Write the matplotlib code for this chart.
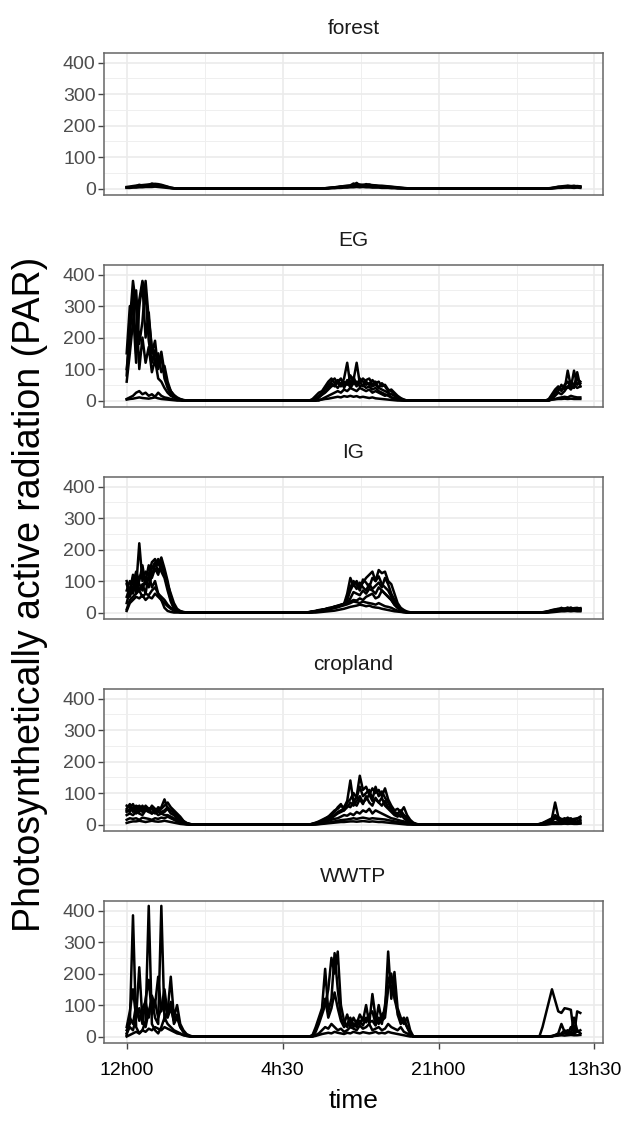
import numpy as np
import matplotlib
matplotlib.use('Agg')
import matplotlib.pyplot as plt
from matplotlib.ticker import FixedLocator, MultipleLocator

plt.rcParams['font.family'] = ['Liberation Sans', 'DejaVu Sans']

# hours after 12h00 on day 1, 20 min steps
step = 1 / 3
hours = np.arange(0, 48 + 1e-9, step)
# each series: daylight segments starting at 12h00 (d1), 06h40 (d2), 07h20 (d3); zero at night
seg_start = [0.0, 18 + 2 / 3, 43 + 1 / 3]

forest = [
    ([5, 6, 8, 9, 10, 11, 12, 13, 14, 15, 14, 12, 9, 6, 3, 1, 0, 0, 0, 0, 0, 0, 0],
     [0, 0, 0, 0, 0, 0, 0, 1, 2, 3, 4, 5, 6, 8, 9, 10, 16, 12, 13, 11, 14, 12, 11, 10, 9, 9, 8, 7, 6, 5, 4, 3, 2, 1, 0, 0, 0, 0],
     [0, 0, 0, 0, 1, 2, 4, 6, 7, 8, 9, 8, 7, 8, 7]),
    ([3, 4, 5, 6, 7, 8, 8, 9, 9, 10, 9, 8, 6, 4, 2, 1, 0, 0, 0, 0, 0, 0, 0],
     [0, 0, 0, 0, 0, 0, 0, 0, 1, 2, 3, 4, 5, 5, 6, 7, 8, 9, 8, 10, 9, 8, 7, 8, 6, 6, 5, 4, 4, 3, 2, 1, 1, 0, 0, 0, 0, 0],
     [0, 0, 0, 0, 0, 1, 2, 3, 4, 5, 5, 5, 4, 5, 4]),
    ([2, 2, 3, 3, 4, 4, 5, 5, 5, 6, 5, 4, 3, 2, 1, 0, 0, 0, 0, 0, 0, 0, 0],
     [0, 0, 0, 0, 0, 0, 0, 0, 0, 1, 1, 2, 2, 3, 3, 4, 4, 5, 4, 5, 4, 4, 3, 3, 3, 2, 2, 2, 1, 1, 0, 0, 0, 0, 0, 0, 0, 0],
     [0, 0, 0, 0, 0, 0, 1, 2, 2, 3, 3, 3, 2, 3, 2]),
    ([4, 5, 7, 8, 12, 9, 10, 11, 16, 12, 11, 10, 7, 5, 2, 1, 0, 0, 0, 0, 0, 0, 0],
     [0, 0, 0, 0, 0, 0, 1, 1, 2, 3, 4, 5, 7, 7, 8, 9, 11, 18, 10, 12, 10, 13, 9, 9, 8, 7, 7, 6, 5, 4, 3, 2, 1, 0, 0, 0, 0, 0],
     [0, 0, 0, 0, 0, 2, 3, 5, 5, 6, 8, 7, 9, 6, 6]),
]

eg = [
    ([80, 250, 380, 300, 100, 200, 120, 170, 90, 130, 70, 60, 40, 25, 15, 10, 6, 3, 1, 0, 0, 0, 0],
     [0, 0, 0, 5, 15, 25, 30, 45, 60, 70, 55, 65, 50, 70, 120, 50, 65, 120, 55, 70, 60, 50, 65, 55, 60, 45, 50, 35, 30, 20, 12, 5, 2, 0, 0, 0, 0, 0],
     [0, 0, 0, 0, 5, 20, 35, 45, 30, 50, 60, 40, 95, 50, 60]),
    ([150, 300, 290, 120, 320, 380, 340, 190, 120, 160, 110, 155, 90, 50, 30, 18, 10, 5, 2, 0, 0, 0, 0],
     [0, 0, 0, 0, 0, 10, 20, 35, 40, 55, 45, 60, 70, 40, 60, 45, 75, 50, 60, 45, 65, 70, 50, 60, 40, 55, 45, 30, 35, 25, 15, 8, 3, 0, 0, 0, 0, 0],
     [0, 0, 0, 0, 0, 10, 25, 30, 50, 35, 95, 45, 40, 90, 45]),
    ([5, 10, 15, 25, 30, 20, 25, 15, 20, 12, 25, 15, 10, 8, 5, 3, 2, 1, 0, 0, 0, 0, 0],
     [0, 0, 0, 0, 0, 0, 5, 10, 15, 20, 25, 30, 25, 35, 30, 40, 35, 30, 40, 35, 30, 35, 25, 30, 25, 20, 15, 20, 10, 8, 5, 2, 0, 0, 0, 0, 0, 0],
     [0, 0, 0, 0, 0, 3, 5, 8, 10, 12, 10, 15, 12, 10, 10]),
    ([3, 5, 6, 8, 10, 8, 7, 6, 8, 10, 7, 5, 4, 3, 2, 1, 0, 0, 0, 0, 0, 0, 0],
     [0, 0, 0, 0, 0, 2, 3, 5, 6, 8, 10, 12, 10, 14, 12, 15, 12, 14, 10, 12, 10, 8, 10, 7, 6, 5, 4, 3, 2, 1, 0, 0, 0, 0, 0, 0, 0, 0],
     [0, 0, 0, 0, 2, 3, 4, 5, 5, 6, 5, 6, 5, 5, 5]),
    ([100, 200, 350, 150, 300, 370, 200, 280, 150, 190, 100, 140, 70, 40, 20, 10, 5, 2, 0, 0, 0, 0, 0],
     [0, 0, 0, 2, 8, 15, 25, 40, 50, 60, 70, 55, 45, 60, 50, 80, 60, 45, 70, 60, 50, 55, 45, 50, 40, 35, 30, 25, 20, 15, 10, 5, 2, 0, 0, 0, 0, 0],
     [0, 0, 0, 0, 3, 15, 30, 40, 35, 45, 40, 60, 50, 70, 55]),
    ([60, 150, 250, 350, 180, 250, 380, 260, 170, 120, 150, 90, 110, 60, 30, 15, 8, 3, 1, 0, 0, 0, 0],
     [0, 0, 0, 0, 3, 10, 18, 25, 35, 45, 50, 40, 55, 45, 65, 40, 55, 60, 45, 50, 40, 45, 35, 40, 30, 25, 20, 15, 10, 6, 3, 1, 0, 0, 0, 0, 0, 0],
     [0, 0, 0, 0, 0, 5, 15, 25, 20, 30, 45, 35, 50, 40, 45]),
]

ig = [
    ([90, 60, 110, 80, 220, 100, 130, 120, 160, 170, 150, 175, 140, 100, 50, 20, 8, 3, 1, 0, 0, 0, 0],
     [0, 0, 2, 4, 5, 8, 9, 11, 14, 15, 19, 21, 24, 27, 60, 110, 85, 100, 80, 95, 110, 120, 130, 100, 135, 125, 130, 100, 90, 60, 30, 15, 8, 3, 1, 0, 0, 0],
     [0, 0, 1, 3, 5, 8, 10, 12, 11, 10, 13, 12, 10, 12, 11]),
    ([70, 100, 90, 130, 100, 150, 90, 110, 140, 160, 130, 150, 120, 80, 40, 15, 5, 2, 0, 0, 0, 0, 0],
     [0, 0, 1, 3, 5, 7, 9, 11, 14, 16, 19, 22, 25, 28, 40, 70, 90, 75, 95, 80, 70, 90, 75, 85, 95, 80, 110, 90, 60, 40, 20, 10, 5, 2, 0, 0, 0, 0],
     [0, 0, 0, 1, 3, 5, 7, 9, 10, 8, 10, 12, 9, 10, 8]),
    ([50, 80, 60, 100, 70, 90, 60, 120, 80, 100, 60, 40, 15, 5, 2, 0, 0, 0, 0, 0, 0, 0, 0],
     [0, 0, 1, 2, 4, 6, 8, 10, 12, 15, 17, 20, 24, 27, 30, 35, 40, 38, 45, 40, 50, 55, 60, 45, 50, 70, 60, 50, 40, 25, 15, 8, 3, 1, 0, 0, 0, 0],
     [0, 0, 0, 0, 2, 4, 6, 8, 15, 9, 12, 16, 10, 13, 14]),
    ([10, 40, 50, 60, 70, 50, 60, 55, 70, 80, 60, 50, 40, 25, 15, 8, 4, 2, 1, 0, 0, 0, 0],
     [0, 0, 0, 1, 3, 4, 6, 8, 10, 12, 14, 17, 20, 23, 26, 30, 35, 33, 30, 35, 32, 30, 28, 25, 30, 25, 20, 18, 15, 10, 6, 3, 1, 0, 0, 0, 0, 0],
     [0, 0, 0, 1, 2, 3, 5, 6, 7, 6, 8, 7, 6, 7, 6]),
    ([5, 30, 40, 50, 45, 55, 40, 50, 45, 60, 50, 40, 30, 20, 12, 6, 3, 1, 0, 0, 0, 0, 0],
     [0, 0, 0, 0, 0, 1, 2, 3, 4, 5, 6, 8, 10, 12, 15, 18, 20, 22, 25, 23, 20, 22, 18, 16, 15, 12, 10, 8, 6, 4, 3, 2, 1, 0, 0, 0, 0, 0],
     [0, 0, 0, 0, 0, 1, 2, 3, 4, 4, 5, 4, 5, 4, 4]),
    ([30, 70, 120, 60, 110, 130, 100, 150, 110, 140, 120, 160, 130, 90, 60, 30, 12, 5, 2, 0, 0, 0, 0],
     [0, 0, 1, 2, 4, 6, 8, 10, 12, 14, 16, 18, 22, 25, 50, 80, 100, 90, 70, 105, 95, 80, 110, 100, 115, 90, 80, 70, 50, 35, 20, 10, 4, 1, 0, 0, 0, 0],
     [0, 0, 0, 1, 3, 6, 8, 10, 14, 12, 16, 10, 14, 15, 12]),
    ([100, 50, 80, 120, 90, 70, 110, 80, 120, 150, 170, 130, 110, 70, 35, 12, 4, 1, 0, 0, 0, 0, 0],
     [0, 0, 1, 3, 4, 6, 8, 10, 12, 14, 17, 20, 23, 26, 30, 45, 65, 60, 55, 70, 60, 75, 70, 60, 80, 70, 60, 50, 40, 25, 15, 8, 3, 1, 0, 0, 0, 0],
     [0, 0, 0, 2, 4, 7, 9, 11, 9, 13, 11, 14, 12, 9, 13]),
]

cropland = [
    ([60, 55, 65, 45, 60, 50, 55, 40, 60, 50, 45, 55, 80, 50, 45, 40, 30, 20, 10, 5, 2, 0, 0],
     [0, 0, 0, 3, 6, 10, 15, 20, 25, 35, 45, 50, 60, 55, 75, 140, 70, 90, 155, 110, 120, 95, 115, 100, 110, 90, 115, 80, 60, 45, 50, 40, 55, 30, 15, 6, 2, 0],
     [0, 2, 5, 10, 15, 20, 70, 25, 15, 20, 15, 20, 12, 18, 25]),
    ([40, 50, 45, 55, 40, 60, 45, 50, 35, 40, 30, 35, 40, 50, 35, 30, 20, 12, 6, 3, 1, 0, 0],
     [0, 0, 0, 2, 4, 7, 10, 15, 20, 25, 30, 40, 45, 50, 60, 55, 70, 60, 80, 65, 90, 70, 60, 85, 70, 60, 75, 55, 45, 35, 30, 25, 30, 20, 10, 4, 1, 0],
     [0, 1, 3, 6, 10, 12, 20, 15, 10, 12, 10, 12, 8, 10, 15]),
    ([15, 20, 18, 20, 15, 22, 20, 18, 15, 20, 18, 22, 20, 25, 20, 15, 10, 6, 3, 1, 0, 0, 0],
     [0, 0, 0, 1, 2, 4, 6, 8, 12, 15, 18, 20, 25, 30, 28, 35, 30, 40, 35, 45, 40, 50, 35, 45, 40, 35, 30, 25, 20, 18, 15, 12, 10, 6, 3, 1, 0, 0],
     [0, 0, 1, 2, 4, 6, 8, 6, 5, 6, 5, 6, 5, 5, 6]),
    ([5, 8, 10, 10, 12, 10, 8, 10, 12, 10, 9, 10, 12, 10, 8, 6, 4, 2, 1, 0, 0, 0, 0],
     [0, 0, 0, 0, 1, 2, 3, 5, 6, 8, 10, 12, 14, 15, 16, 18, 20, 18, 20, 22, 20, 18, 20, 19, 18, 17, 16, 14, 12, 10, 8, 6, 4, 2, 1, 0, 0, 0],
     [0, 0, 0, 1, 2, 3, 4, 3, 3, 4, 3, 4, 3, 3, 4]),
    ([30, 35, 30, 40, 35, 30, 45, 40, 35, 45, 40, 35, 30, 30, 25, 20, 15, 8, 4, 2, 0, 0, 0],
     [0, 0, 0, 0, 0, 1, 2, 3, 4, 5, 6, 7, 8, 8, 9, 10, 10, 9, 10, 11, 10, 9, 10, 9, 8, 8, 7, 6, 5, 4, 3, 2, 1, 0, 0, 0, 0, 0],
     [0, 0, 0, 0, 1, 2, 2, 2, 2, 3, 2, 3, 2, 2, 3]),
    ([50, 65, 40, 60, 55, 45, 60, 50, 55, 40, 55, 50, 60, 70, 55, 45, 35, 25, 12, 5, 2, 0, 0],
     [0, 0, 0, 2, 5, 8, 12, 18, 25, 30, 40, 55, 65, 45, 70, 80, 100, 85, 120, 90, 100, 110, 80, 120, 90, 105, 85, 70, 50, 40, 35, 45, 30, 20, 8, 3, 1, 0],
     [0, 1, 4, 8, 12, 15, 30, 20, 18, 15, 22, 15, 18, 20, 22]),
    ([45, 40, 55, 35, 50, 40, 50, 45, 50, 35, 50, 40, 45, 55, 45, 35, 25, 15, 8, 3, 1, 0, 0],
     [0, 0, 0, 1, 3, 5, 8, 12, 16, 20, 28, 35, 40, 45, 55, 70, 60, 75, 90, 70, 80, 95, 75, 80, 70, 85, 60, 50, 40, 30, 25, 35, 20, 12, 5, 2, 0, 0],
     [0, 1, 2, 4, 8, 10, 25, 12, 8, 10, 8, 10, 6, 8, 12]),
]

wwtp = [
    ([20, 40, 385, 30, 10, 20, 50, 415, 40, 20, 10, 30, 60, 40, 30, 20, 15, 10, 5, 2, 0, 0, 0],
     [0, 0, 0, 5, 30, 60, 90, 215, 80, 120, 265, 150, 60, 40, 70, 30, 60, 40, 70, 50, 100, 40, 135, 60, 40, 70, 80, 270, 120, 205, 90, 60, 40, 60, 20, 0, 0, 0],
     [0, 0, 30, 70, 110, 150, 115, 80, 75, 90, 88, 85, 5, 80, 75]),
    ([10, 30, 20, 60, 220, 50, 30, 80, 120, 60, 40, 415, 50, 80, 190, 60, 100, 40, 20, 8, 3, 0, 0],
     [0, 0, 0, 2, 15, 40, 70, 100, 150, 250, 200, 270, 100, 50, 30, 50, 40, 30, 50, 35, 60, 45, 50, 35, 60, 40, 100, 180, 200, 120, 80, 50, 60, 30, 10, 0, 0, 0],
     [0, 0, 0, 0, 0, 0, 5, 10, 40, 15, 20, 10, 60, 20, 10]),
    ([5, 60, 40, 100, 50, 90, 110, 60, 130, 100, 190, 80, 120, 60, 90, 50, 70, 30, 15, 5, 2, 0, 0],
     [0, 0, 0, 0, 5, 10, 20, 30, 25, 40, 30, 20, 25, 15, 20, 30, 25, 20, 35, 25, 30, 40, 20, 25, 30, 20, 25, 40, 30, 25, 20, 30, 15, 10, 5, 0, 0, 0],
     [0, 0, 0, 0, 0, 2, 4, 6, 8, 10, 8, 12, 10, 15, 20]),
    ([0, 5, 10, 15, 10, 20, 15, 25, 20, 30, 25, 20, 30, 25, 20, 15, 10, 8, 4, 2, 1, 0, 0],
     [0, 0, 0, 0, 2, 5, 8, 10, 12, 10, 15, 12, 10, 8, 12, 10, 15, 12, 10, 14, 12, 10, 12, 15, 10, 12, 10, 15, 12, 10, 8, 6, 4, 2, 0, 0, 0, 0],
     [0, 0, 0, 0, 0, 1, 2, 3, 4, 3, 4, 5, 4, 4, 5]),
    ([30, 80, 150, 60, 90, 40, 120, 180, 70, 110, 60, 90, 150, 70, 110, 40, 60, 30, 15, 5, 1, 0, 0],
     [0, 0, 0, 3, 20, 50, 80, 120, 60, 90, 140, 90, 50, 30, 40, 60, 30, 50, 40, 60, 45, 70, 80, 40, 100, 50, 60, 150, 180, 160, 70, 40, 50, 30, 10, 0, 0, 0],
     [0, 0, 0, 0, 0, 1, 3, 5, 10, 20, 8, 30, 15, 20, 10]),
]

sites = ['forest', 'EG', 'IG', 'cropland', 'WWTP']
site_data = [forest, eg, ig, cropland, wwtp]

x_breaks = [0, 16.5, 33, 49.5]
x_labels = ['12h00', '4h30', '21h00', '13h30']


def build(segs):
    y = np.zeros(len(hours))
    for start, vals in zip(seg_start, segs):
        i0 = int(round(start / step))
        y[i0:i0 + len(vals)] = vals
    return y


W, H = 625, 1128
fig = plt.figure(figsize=(W / 100, H / 100), dpi=100)

left, right = 104, 603
ph = 142
tops = [53, 265, 477, 689, 901]

for k, (name, series) in enumerate(zip(sites, site_data)):
    top = tops[k]
    ax = fig.add_axes([left / W, 1 - (top + ph) / H, (right - left) / W, ph / H])
    for segs in series:
        ax.plot(hours, build(segs), color='black', lw=1.8, solid_joinstyle='round')
    ax.set_xlim(-2.4, 50.4)
    ax.set_ylim(-20.5, 430.5)
    ax.xaxis.set_major_locator(FixedLocator(x_breaks))
    ax.xaxis.set_minor_locator(FixedLocator([8.25, 24.75, 41.25]))
    ax.yaxis.set_major_locator(MultipleLocator(100))
    ax.yaxis.set_minor_locator(FixedLocator([50, 150, 250, 350]))
    ax.grid(which='major', color='#EBEBEB', lw=1.2)
    ax.grid(which='minor', color='#EFEFEF', lw=0.7)
    ax.set_axisbelow(True)
    for sp in ax.spines.values():
        sp.set_color('#666666')
        sp.set_linewidth(1.1)
    ax.tick_params(which='minor', length=0)
    ax.tick_params(axis='y', which='major', length=4, width=1, color='#444444',
                   labelsize=14, labelcolor='#4D4D4D', pad=2)
    if k < 4:
        ax.tick_params(axis='x', which='major', length=0, labelbottom=False)
    else:
        ax.set_xticklabels(x_labels)
        ax.tick_params(axis='x', which='major', length=4, width=1, color='#444444',
                       labelsize=14, labelcolor='black', pad=10)
    ax.text(0.5, 1 + 25 / ph, name, transform=ax.transAxes, ha='center', va='center',
            fontsize=15, color='#1A1A1A')

fig.text((left + right) / 2 / W, 1 - 1101 / H, 'time', ha='center', va='center', fontsize=19)
fig.text(30 / W, 1 - 594 / H, 'Photosynthetically active radiation (PAR)', rotation=90,
         ha='center', va='center', fontsize=27)

fig.savefig('out.png', dpi=100)
